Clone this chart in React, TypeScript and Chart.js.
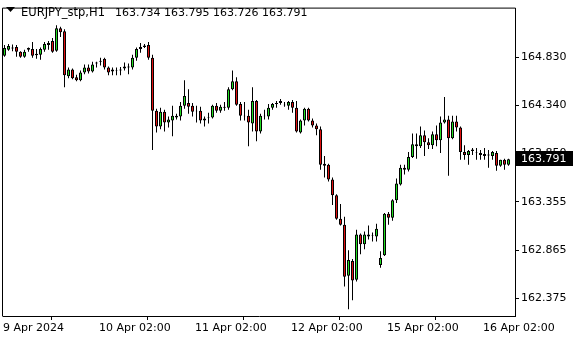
import { useEffect, useRef } from "react";
import { Chart, registerables } from "chart.js";

Chart.register(...registerables);

const symbolLabel = "EURJPY_stp,H1";
const headerPrices = ["163.734", "163.795", "163.726", "163.791"];

// OHLC per hourly candle
const opens = [
  164.847, 164.907, 164.922, 164.937, 164.887, 164.837, 164.907, 164.917, 164.867, 164.857,
  164.907, 164.957, 164.997, 164.897, 165.128, 165.097, 164.637, 164.707, 164.627, 164.597,
  164.677, 164.727, 164.687, 164.767, 164.787, 164.817, 164.727, 164.707, 164.697, 164.697,
  164.717, 164.737, 164.727, 164.827, 164.917, 164.937, 164.957, 164.827, 164.286, 164.126,
  164.276, 164.166, 164.186, 164.216, 164.226, 164.336, 164.366, 164.336, 164.286, 164.286,
  164.186, 164.211, 164.216, 164.336, 164.286, 164.316, 164.316, 164.506, 164.586, 164.356,
  164.236, 164.236, 164.156, 164.386, 164.075, 164.231, 164.226, 164.316, 164.356, 164.366,
  164.346, 164.336, 164.376, 164.316, 164.065, 164.186, 164.306, 164.186, 164.136, 164.096,
  163.745, 163.735, 163.584, 163.424, 163.184, 163.124, 162.603, 162.753, 162.563, 163.023,
  162.923, 163.023, 163.008, 163.003, 162.713, 162.813, 163.234, 163.194, 163.374, 163.534,
  163.705, 163.685, 163.815, 163.925, 163.925, 164.035, 163.965, 163.935, 164.045, 163.985,
  164.166, 164.196, 164.005, 164.176, 164.116, 163.865, 163.835, 163.875, 163.855, 163.855,
  163.845, 163.840, 163.825, 163.855, 163.725, 163.785, 163.734,
];
const highs = [
  164.957, 164.967, 164.962, 164.957, 164.892, 164.907, 164.932, 164.987, 164.917, 164.932,
  164.987, 164.997, 165.027, 165.158, 165.143, 165.118, 164.727, 164.717, 164.652, 164.697,
  164.757, 164.757, 164.787, 164.787, 164.827, 164.827, 164.737, 164.727, 164.727, 164.732,
  164.777, 164.767, 164.857, 164.932, 164.977, 164.967, 164.987, 164.857, 164.306, 164.316,
  164.296, 164.226, 164.336, 164.256, 164.376, 164.597, 164.506, 164.366, 164.336, 164.326,
  164.226, 164.266, 164.346, 164.366, 164.346, 164.376, 164.526, 164.697, 164.627, 164.376,
  164.376, 164.296, 164.526, 164.396, 164.256, 164.296, 164.356, 164.366, 164.386, 164.406,
  164.376, 164.386, 164.396, 164.386, 164.196, 164.316, 164.316, 164.206, 164.156, 164.126,
  163.825, 163.745, 163.604, 163.434, 163.334, 163.204, 162.863, 162.773, 163.073, 163.033,
  163.053, 163.114, 163.043, 163.134, 162.853, 163.244, 163.254, 163.384, 163.594, 163.735,
  163.735, 163.865, 164.055, 164.055, 164.126, 164.085, 164.005, 164.075, 164.136, 164.226,
  164.426, 164.236, 164.236, 164.236, 164.126, 163.935, 163.885, 163.905, 163.905, 163.885,
  163.905, 163.885, 163.875, 163.875, 163.785, 163.795, 163.795,
];
const lows = [
  164.837, 164.897, 164.892, 164.837, 164.827, 164.827, 164.887, 164.827, 164.817, 164.807,
  164.887, 164.907, 164.877, 164.887, 165.037, 164.526, 164.617, 164.607, 164.586, 164.586,
  164.657, 164.667, 164.677, 164.727, 164.747, 164.707, 164.647, 164.647, 164.647, 164.647,
  164.697, 164.657, 164.707, 164.797, 164.877, 164.927, 164.807, 163.885, 164.065, 164.096,
  164.075, 164.116, 164.025, 164.196, 164.186, 164.306, 164.256, 164.226, 164.166, 164.156,
  164.126, 164.156, 164.206, 164.266, 164.266, 164.286, 164.296, 164.496, 164.336, 164.186,
  164.186, 163.925, 164.075, 163.975, 164.055, 164.196, 164.196, 164.296, 164.316, 164.346,
  164.326, 164.296, 164.266, 164.065, 164.055, 164.136, 164.176, 164.116, 164.035, 163.685,
  163.604, 163.564, 163.324, 163.174, 163.114, 162.492, 162.262, 162.352, 162.543, 162.823,
  162.873, 162.973, 162.953, 162.953, 162.683, 162.803, 163.124, 163.164, 163.344, 163.524,
  163.635, 163.665, 163.805, 163.795, 163.905, 163.825, 163.895, 163.895, 163.925, 163.855,
  164.156, 163.624, 163.995, 164.075, 163.785, 163.785, 163.735, 163.835, 163.785, 163.785,
  163.785, 163.705, 163.785, 163.675, 163.715, 163.685, 163.726,
];
const closes = [
  164.927, 164.947, 164.932, 164.887, 164.837, 164.887, 164.927, 164.847, 164.852, 164.917,
  164.967, 164.977, 164.887, 165.128, 165.087, 164.647, 164.707, 164.617, 164.597, 164.677,
  164.727, 164.687, 164.757, 164.777, 164.797, 164.727, 164.677, 164.687, 164.692, 164.707,
  164.737, 164.727, 164.827, 164.917, 164.937, 164.952, 164.827, 164.286, 164.126, 164.276,
  164.166, 164.196, 164.236, 164.236, 164.336, 164.436, 164.326, 164.276, 164.281, 164.186,
  164.206, 164.216, 164.336, 164.286, 164.326, 164.326, 164.506, 164.586, 164.346, 164.236,
  164.231, 164.166, 164.386, 164.075, 164.236, 164.236, 164.316, 164.356, 164.366, 164.386,
  164.341, 164.376, 164.316, 164.075, 164.186, 164.306, 164.186, 164.136, 164.096, 163.735,
  163.725, 163.584, 163.424, 163.184, 163.124, 162.593, 162.763, 162.553, 163.023, 162.923,
  163.023, 163.003, 163.013, 163.083, 162.783, 163.234, 163.194, 163.374, 163.544, 163.705,
  163.685, 163.815, 163.945, 163.945, 164.035, 163.965, 163.935, 164.045, 163.985, 164.166,
  164.196, 164.005, 164.176, 164.116, 163.865, 163.835, 163.875, 163.890, 163.860, 163.835,
  163.825, 163.830, 163.865, 163.725, 163.785, 163.735, 163.791,
];

const xTickIndex = [0, 24, 48, 72, 96, 120];
const xTickLabels = ["9 Apr 2024", "10 Apr 02:00", "11 Apr 02:00", "12 Apr 02:00", "15 Apr 02:00", "16 Apr 02:00"];
const yTickValues = [164.83, 164.34, 163.85, 163.355, 162.865, 162.375];

const BULL = "#22dd22";
const BEAR = "#e01010";
const FONT = '"DejaVu Sans", "Liberation Sans", sans-serif';
const TICK_SHIFT = -0.375;

const decorPlugin = {
  id: "mtDecor",
  afterDraw(chart: any) {
    const { ctx, chartArea } = chart;
    const y = chart.scales.y;
    ctx.save();
    // left / top frame
    ctx.strokeStyle = "#000";
    ctx.lineWidth = 1;
    ctx.beginPath();
    ctx.moveTo(chartArea.left - 0.5, chartArea.bottom + 0.5);
    ctx.lineTo(chartArea.left - 0.5, chartArea.top - 0.5);
    ctx.lineTo(chartArea.right + 0.5, chartArea.top - 0.5);
    ctx.stroke();
    // header
    ctx.fillStyle = "#000";
    ctx.beginPath();
    ctx.moveTo(6, 7);
    ctx.lineTo(15, 7);
    ctx.lineTo(10.5, 12);
    ctx.closePath();
    ctx.fill();
    ctx.textBaseline = "alphabetic";
    ctx.textAlign = "left";
    ctx.font = `11.5px ${FONT}`;
    ctx.fillText(symbolLabel, 21, 15.5);
    ctx.font = `11px ${FONT}`;
    headerPrices.forEach((p, k) => ctx.fillText(p, 115 + 49 * k, 15.5));
    // current price box
    const last = closes[closes.length - 1];
    const py = Math.round(y.getPixelForValue(last));
    ctx.fillStyle = "#000";
    ctx.fillRect(chartArea.right + 1, py - 8, 57, 15);
    ctx.fillStyle = "#fff";
    ctx.textBaseline = "middle";
    ctx.fillText(last.toFixed(3), chartArea.right + 6, py);
    ctx.restore();
  },
};

export default function App() {
  const ref = useRef<HTMLCanvasElement | null>(null);
  useEffect(() => {
    if (!ref.current) return;
    const idx = opens.map((_, i) => i);
    const chart = new Chart(ref.current, {
      type: "bar",
      data: {
        datasets: [
          {
            label: "body",
            data: idx.map((i) => ({ x: i, y: [opens[i], closes[i]] })) as any,
            backgroundColor: idx.map((i) => (closes[i] >= opens[i] ? BULL : BEAR)),
            borderColor: "#000",
            borderWidth: 1,
            borderSkipped: false,
            barThickness: 3,
            grouped: false,
            inflateAmount: 0,
            order: 0,
          } as any,
          {
            label: "wick",
            data: idx.map((i) => ({ x: i, y: [lows[i], highs[i]] })) as any,
            backgroundColor: "#000",
            borderWidth: 0,
            barThickness: 1,
            grouped: false,
            inflateAmount: 0,
            order: 1,
          } as any,
        ],
      },
      options: {
        animation: false,
        responsive: false,
        maintainAspectRatio: false,
        layout: { padding: { left: 3, top: 3, right: 0, bottom: 0 } },
        plugins: { legend: { display: false }, tooltip: { enabled: false } },
        scales: {
          x: {
            type: "linear",
            min: TICK_SHIFT,
            max: 127.625,
            offset: false,
            grid: { display: true, drawOnChartArea: false, drawTicks: true, tickLength: 4, color: "#000" },
            border: { display: true, color: "#000" },
            ticks: {
              align: "start",
              autoSkip: false,
              maxRotation: 0,
              color: "#000",
              padding: 2,
              font: { family: FONT, size: 11 },
              callback: (_v: any, i: number) => xTickLabels[i] ?? "",
            },
            afterBuildTicks: (s: any) => {
              s.ticks = xTickIndex.map((v) => ({ value: v + TICK_SHIFT }));
            },
            afterFit: (s: any) => {
              s.height = 24;
            },
          } as any,
          y: {
            type: "linear",
            position: "right",
            min: 162.192,
            max: 165.328,
            grid: { display: true, drawOnChartArea: false, drawTicks: true, tickLength: 4, color: "#000" },
            border: { display: true, color: "#000" },
            ticks: {
              color: "#000",
              padding: 2,
              crossAlign: "near",
              font: { family: FONT, size: 11 },
              callback: (v: any) => Number(v).toFixed(3),
            },
            afterBuildTicks: (s: any) => {
              s.ticks = yTickValues.map((v) => ({ value: v }));
            },
            afterFit: (s: any) => {
              s.width = 65;
            },
          } as any,
        },
      },
      plugins: [decorPlugin],
    });
    return () => chart.destroy();
  }, []);
  return (
    <div style={{ position: "fixed", left: 0, top: 0, width: 580, height: 340, background: "#fff" }}>
      <canvas ref={ref} width={580} height={340} style={{ display: "block", width: 580, height: 340 }} />
    </div>
  );
}
